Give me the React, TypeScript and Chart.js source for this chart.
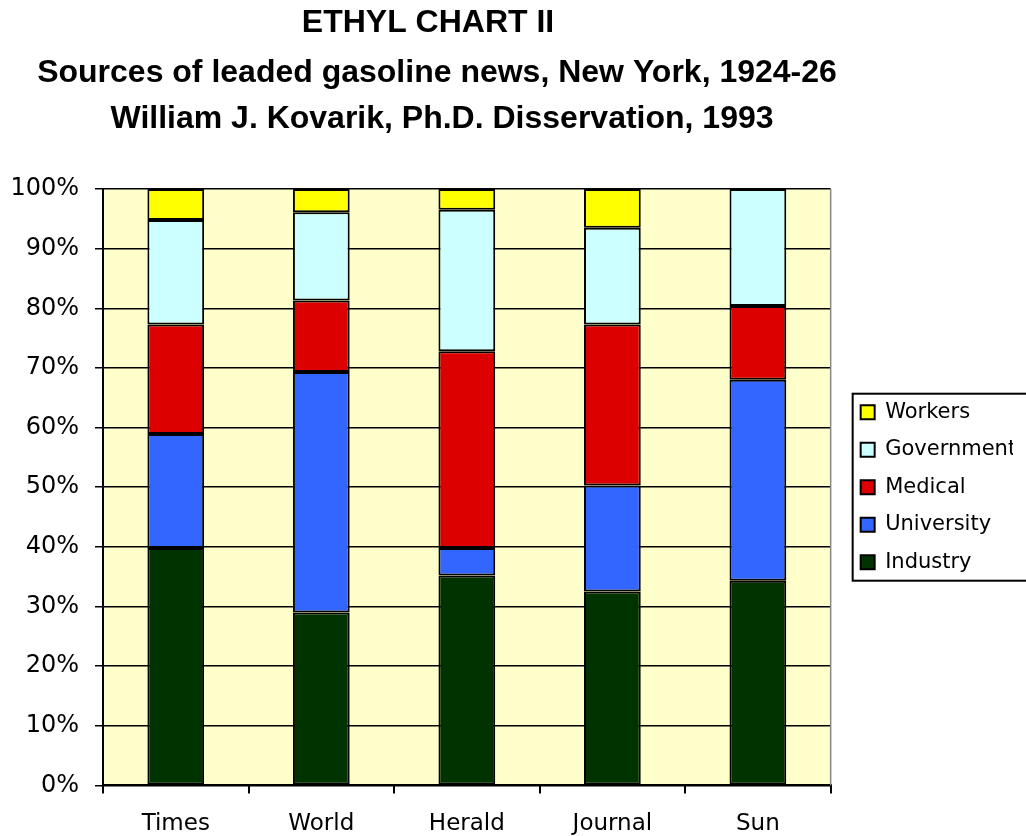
import React, { useEffect, useRef } from "react";
import { Chart, registerables } from "chart.js";

Chart.register(...registerables);

const categories = ["Times", "World", "Herald", "Journal", "Sun"];
const industry = [39.8, 29.0, 35.2, 32.5, 34.3];
const university = [19.1, 40.3, 4.6, 17.8, 33.7];
const medical = [18.4, 12.0, 33.0, 27.0, 12.4];
const government = [17.5, 14.8, 23.7, 16.2, 19.6];
const workers = [5.2, 3.9, 3.5, 6.5, 0];
const titleLines = [
  "ETHYL CHART II",
  "Sources of leaded gasoline news, New York, 1924-26",
  "William J. Kovarik, Ph.D. Disservation, 1993",
];

const FONT = "'DejaVu Sans', sans-serif";

const bgPlugin = {
  id: "bgPlugin",
  beforeDraw(chart: any) {
    const { ctx, chartArea } = chart;
    ctx.save();
    ctx.fillStyle = "#FFFFCC";
    ctx.fillRect(chartArea.left, chartArea.top, chartArea.right - chartArea.left, chartArea.bottom - chartArea.top);
    ctx.restore();
  },
  beforeDatasetsDraw(chart: any) {
    const { ctx, chartArea } = chart;
    ctx.save();
    ctx.strokeStyle = "#888888";
    ctx.lineWidth = 1.5;
    ctx.beginPath();
    ctx.moveTo(chartArea.right, chartArea.top);
    ctx.lineTo(chartArea.right, chartArea.bottom);
    ctx.stroke();
    ctx.restore();
  },
  afterDraw(chart: any) {
    const { ctx } = chart;
    ctx.save();
    ctx.fillStyle = "#000";
    ctx.textAlign = "center";
    ctx.textBaseline = "middle";
    ctx.font = "bold 32px 'Liberation Sans', Arial, sans-serif";
    const xs = [428, 437, 442];
    const ys = [23, 73, 119];
    titleLines.forEach((t, i) => ctx.fillText(t, xs[i], ys[i]));
    const lg = chart.legend;
    if (lg && lg.legendHitBoxes && lg.legendHitBoxes.length) {
      const hb = lg.legendHitBoxes;
      const first = hb[0];
      const last = hb[hb.length - 1];
      const left = first.left - 8;
      const top = first.top - 8;
      const bottom = last.top + last.height + 8;
      ctx.strokeStyle = "#000";
      ctx.lineWidth = 2;
      ctx.strokeRect(left, top, lg.left + lg.width + 80 - left, bottom - top);
    }
    ctx.restore();
  },
};

export default function App() {
  const ref = useRef<HTMLCanvasElement>(null);
  useEffect(() => {
    if (!ref.current) return;
    const mk = (label: string, data: number[], color: string) => ({
      label,
      data,
      backgroundColor: color,
      borderColor: "#000",
      borderWidth: 2,
      borderSkipped: false,
      categoryPercentage: 1,
      barPercentage: 0.39,
      yAxisID: "y",
    });
    const chart = new Chart(ref.current, {
      type: "bar",
      data: {
        labels: categories,
        datasets: [
          mk("Industry", industry, "#003300"),
          mk("University", university, "#3366FF"),
          mk("Medical", medical, "#DD0000"),
          mk("Government", government, "#CCFFFF"),
          mk("Workers", workers, "#FFFF00"),
        ],
      },
      options: {
        animation: false,
        responsive: false,
        layout: { padding: { top: 189, left: 0, right: 51, bottom: 2 } },
        plugins: {
          title: { display: false },
          tooltip: { enabled: false },
          legend: {
            position: "right",
            fullSize: false,
            reverse: true,
            labels: {
              color: "#000",
              font: { family: FONT, size: 21 },
              boxWidth: 14,
              boxHeight: 14,
              padding: 16.5,
            },
          },
        },
        scales: {
          x: {
            stacked: true,
            grid: { display: true, drawOnChartArea: false, drawTicks: true, tickLength: 8, color: "#000", lineWidth: 2, offset: true },
            border: { display: true, color: "#000", width: 2 },
            ticks: { color: "#000", font: { family: FONT, size: 23 }, padding: 17, maxRotation: 0 },
          },
          y: {
            stacked: true,
            min: 0,
            max: 100,
            afterFit: (s: any) => { s.width = 103; },
            grid: { color: "#000", lineWidth: 1.5, tickLength: 8, drawTicks: true },
            border: { display: true, color: "#000", width: 2 },
            ticks: {
              stepSize: 10,
              color: "#000",
              font: { family: FONT, size: 24 },
              padding: 16,
              callback: (v: any) => v + "%",
            },
          },
          yR: {
            type: "linear",
            position: "right",
            display: true,
            afterFit: (s: any) => { s.width = 13.5; },
            grid: { display: false, drawTicks: false },
            border: { display: false },
            ticks: { display: false },
          },
        },
      },
      plugins: [bgPlugin],
    });
    return () => chart.destroy();
  }, []);
  return (
    <div style={{ position: "absolute", left: 0, top: 0, width: 1026, height: 836, overflow: "hidden", background: "#fff" }}>
      <canvas ref={ref} width={1064} height={857} style={{ display: "block" }} />
    </div>
  );
}
